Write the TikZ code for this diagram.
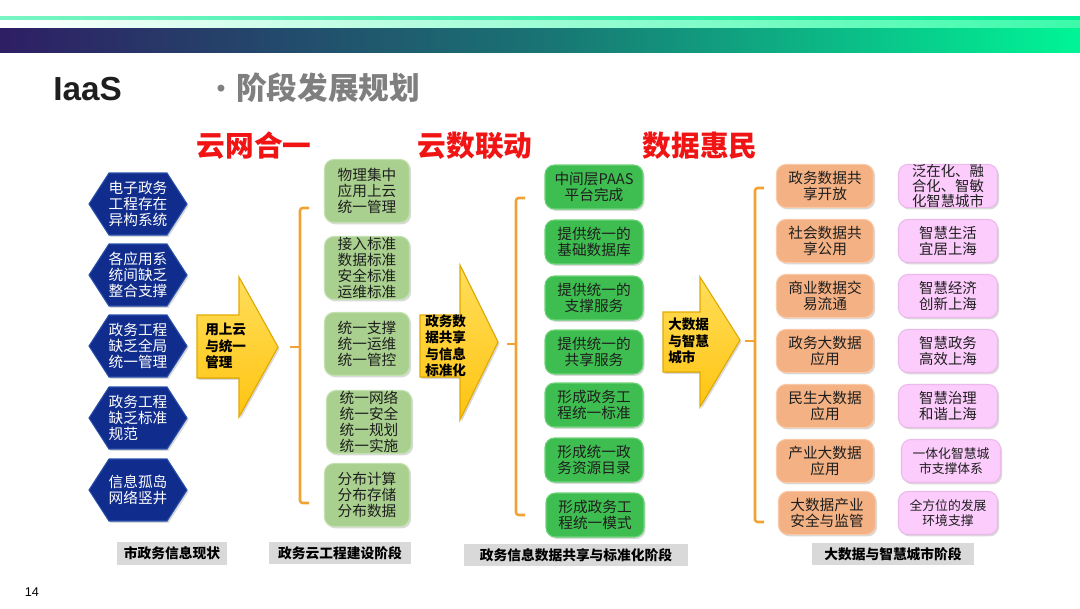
\documentclass[tikz,border=0pt]{standalone}
\usepackage{fontspec}
\setmainfont{Noto Sans CJK SC}
\newfontfamily\latinsans{Liberation Sans}
\usetikzlibrary{shadows}
\definecolor{navy}{RGB}{16,44,140}
\definecolor{navyedge}{RGB}{40,80,170}
\definecolor{lgreen}{RGB}{169,208,142}
\definecolor{lgreenedge}{RGB}{195,225,175}
\definecolor{bgreen}{RGB}{62,190,80}
\definecolor{bgreenedge}{RGB}{110,210,120}
\definecolor{orangebox}{RGB}{244,177,131}
\definecolor{orangeedge}{RGB}{250,200,165}
\definecolor{pinkbox}{RGB}{252,204,252}
\definecolor{pinkedge}{RGB}{235,185,235}
\definecolor{bracecol}{RGB}{240,162,50}
\definecolor{arrowfill}{RGB}{255,208,20}
\definecolor{arrowedge}{RGB}{225,170,0}
\definecolor{labelgray}{RGB}{217,217,217}
\definecolor{titlegray}{RGB}{127,127,127}
\definecolor{headred}{RGB}{240,20,20}
\definecolor{textdark}{RGB}{30,30,30}
\tikzset{
  shadowed/.style={drop shadow={shadow xshift=1.2pt,shadow yshift=-1.4pt,opacity=0.3}},
  hexfill/.style={fill=navy,draw=navyedge,line width=0.8pt,shadowed},
  hextext/.style={text=white,align=left,inner sep=0pt,font=\fontsize{11}{12.2}\selectfont},
  boxbase/.style={rounded corners=7pt,line width=0.8pt,inner sep=0pt,text=textdark,shadowed},
  lgbox/.style={boxbase,fill=lgreen,draw=lgreenedge,minimum width=63.75pt,minimum height=47.25pt,align=left,font=\fontsize{11}{12}\selectfont},
  bgbox/.style={boxbase,fill=bgreen,draw=bgreenedge,minimum width=73.5pt,minimum height=33pt,align=center,font=\fontsize{11}{12.5}\selectfont},
  orbox/.style={boxbase,fill=orangebox,draw=orangeedge,minimum width=72.75pt,minimum height=32.25pt,align=center,font=\fontsize{11}{12}\selectfont},
  pkbox/.style={boxbase,fill=pinkbox,draw=pinkedge,minimum width=74.25pt,minimum height=32.25pt,align=center,font=\fontsize{10.8}{11.8}\selectfont},
  arrowshape/.style={top color=arrowfill!70!white,bottom color=arrowfill!85!orange,draw=arrowedge,line width=0.8pt,shadowed},
  arrowtext/.style={inner sep=0pt,align=left,text=black,font=\bfseries\fontsize{10.2}{12.4}\selectfont},
  bracestyle/.style={draw=bracecol,line width=1.9pt,rounded corners=2pt},
  headtext/.style={text=headred,inner sep=0pt,font=\bfseries\fontsize{21.5}{24}\selectfont},
  stagelabel/.style={fill=labelgray,inner sep=0pt,text=black,font=\bfseries\fontsize{10.3}{12}\selectfont},
}
\newcommand\hexat[4]{%
  \fill[hexfill] (#2-49,#3) -- (#2-29,#3-31) -- (#2+29,#3-31) -- (#2+49,#3) -- (#2+29,#3+31) -- (#2-29,#3+31) -- cycle;
  \node[hextext] (#1) at (#2,#3) {#4};}
\newcommand\bracketat[6]{%
  % #1 name, #2 x, #3 top y, #4 bottom y, #5 middle y, #6 tick length
  \coordinate (#1) at (#2-#6,#5);
  \draw[bracestyle] (#2+9,#3) -- (#2,#3) -- (#2,#4) -- (#2+9,#4);
  \draw[bracestyle] (#1) -- (#2,#5);}
\begin{document}
\begin{tikzpicture}[x=0.75pt,y=-0.75pt]
\useasboundingbox (0,0) rectangle (1080,608);
% header bars
\fill[left color={rgb,255:red,120;green,245;blue,195},right color={rgb,255:red,0;green,240;blue,150}] (0,16.7) rectangle (1080,20.7);
\fill[left color=white,right color={rgb,255:red,60;green,250;blue,170}] (0,20.7) rectangle (1080,28.3);
\shade[left color={rgb,255:red,46;green,30;blue,100},right color={rgb,255:red,0;green,245;blue,150},middle color={rgb,255:red,25;green,115;blue,115}] (0,28.3) rectangle (1080,52.7);
% titles
\node[anchor=west,inner sep=0pt,text={rgb,255:red,30;green,30;blue,30},font=\latinsans\bfseries\fontsize{25}{28}\selectfont] (iaas) at (53,89) {IaaS};
\node[inner sep=0pt,text=titlegray,font=\latinsans\bfseries\fontsize{18}{20}\selectfont] (bullet) at (221,91) {\textbullet};
\node[anchor=west,inner sep=0pt,text=titlegray,font=\bfseries\fontsize{23}{26}\selectfont] (subtitle) at (236,88) {阶段发展规划};
% stage headers
\node[headtext] (h1) at (254,146) {云网合一};
\node[headtext] (h2) at (475,146) {云数联动};
\node[headtext] (h3) at (700,146) {数据惠民};
% hexagons
\hexat{s1}{138}{204}{电子政务\\工程存在\\异构系统}
\hexat{s2}{138}{275}{各应用系\\统间缺乏\\整合支撑}
\hexat{s3}{138}{346}{政务工程\\缺乏全局\\统一管理}
\hexat{s4}{138}{418}{政务工程\\缺乏标准\\规范}
\hexat{s5}{138}{490}{信息孤岛\\网络竖井}
% arrow 1
\fill[arrowshape] (197,315) -- (239,315) -- (239,277) -- (278,347) -- (239,417) -- (239,378) -- (197,378) -- cycle;
\node[arrowtext,anchor=west] (a1) at (205,346) {用上云\\与统一\\管理};
% bracket 1
\bracketat{b1}{300}{208}{503}{347}{10}
% column 2
\node[lgbox] (c1) at (367,191) {物理集中\\应用上云\\统一管理};
\node[lgbox] (c2) at (367,268) {接入标准\\数据标准\\安全标准\\运维标准};
\node[lgbox] (c3) at (367,344) {统一支撑\\统一运维\\统一管控};
\node[lgbox] (c4) at (369,422) {统一网络\\统一安全\\统一规划\\统一实施};
\node[lgbox] (c5) at (367,495) {分布计算\\分布存储\\分布数据};
% arrow 2
\fill[arrowshape] (420,315) -- (460,315) -- (460,265) -- (498,342) -- (460,420) -- (460,377) -- (420,377) -- cycle;
\node[arrowtext,anchor=west] (a2) at (425,346) {政务数\\据共享\\与信息\\标准化};
% bracket 2
\bracketat{b2}{516}{198}{515}{344}{9}
% column 3
\node[bgbox] (d1) at (594,187) {中间层PAAS\\平台完成};
\node[bgbox] (d2) at (594,242) {提供统一的\\基础数据库};
\node[bgbox] (d3) at (594,298) {提供统一的\\支撑服务};
\node[bgbox] (d4) at (594,352) {提供统一的\\共享服务};
\node[bgbox] (d5) at (594,405) {形成政务工\\程统一标准};
\node[bgbox] (d6) at (594,460) {形成统一政\\务资源目录};
\node[bgbox] (d7) at (595,515) {形成政务工\\程统一模式};
% arrow 3
\fill[arrowshape] (663,312) -- (700,312) -- (700,277) -- (740,340) -- (700,407) -- (700,372) -- (663,372) -- cycle;
\node[arrowtext,anchor=west] (a3) at (668,341) {大数据\\与智慧\\城市};
% bracket 3
\bracketat{b3}{755}{188}{522}{341}{10}
% orange column
\node[orbox] (e1) at (825,186) {政务数据共\\享开放};
\node[orbox] (e2) at (825,241) {社会数据共\\享公用};
\node[orbox] (e3) at (825,296) {商业数据交\\易流通};
\node[orbox] (e4) at (825,351) {政务大数据\\应用};
\node[orbox] (e5) at (825,406) {民生大数据\\应用};
\node[orbox] (e6) at (825,461) {产业大数据\\应用};
\node[orbox] (e7) at (827,513) {大数据产业\\安全与监管};
% pink column
\node[pkbox,font=\fontsize{10.8}{11.2}\selectfont] (f1) at (948,186) {泛在化、融\\合化、智敏\\化智慧城市};
\node[pkbox] (f2) at (948,241) {智慧生活\\宜居上海};
\node[pkbox] (f3) at (948,296) {智慧经济\\创新上海};
\node[pkbox] (f4) at (948,351) {智慧政务\\高效上海};
\node[pkbox] (f5) at (948,406) {智慧治理\\和谐上海};
\node[pkbox,font=\fontsize{9.6}{11}\selectfont] (f6) at (951,461) {一体化智慧城\\市支撑体系};
\node[pkbox,font=\fontsize{9.6}{11}\selectfont] (f7) at (948,513) {全方位的发展\\环境支撑};
% stage labels
\node[stagelabel,minimum width=82.5pt,minimum height=17pt] (l1) at (172,553.5) {市政务信息现状};
\node[stagelabel,minimum width=106.5pt,minimum height=16.5pt] (l2) at (340,553) {政务云工程建设阶段};
\node[stagelabel,minimum width=168pt,minimum height=16.5pt] (l3) at (576,555) {政务信息数据共享与标准化阶段};
\node[stagelabel,minimum width=121.5pt,minimum height=16.5pt] (l4) at (893,554) {大数据与智慧城市阶段};
% page number
\node[inner sep=0pt,text=black,font=\latinsans\fontsize{9.5}{11}\selectfont] (pg) at (32,592) {14};
\end{tikzpicture}
\end{document}
